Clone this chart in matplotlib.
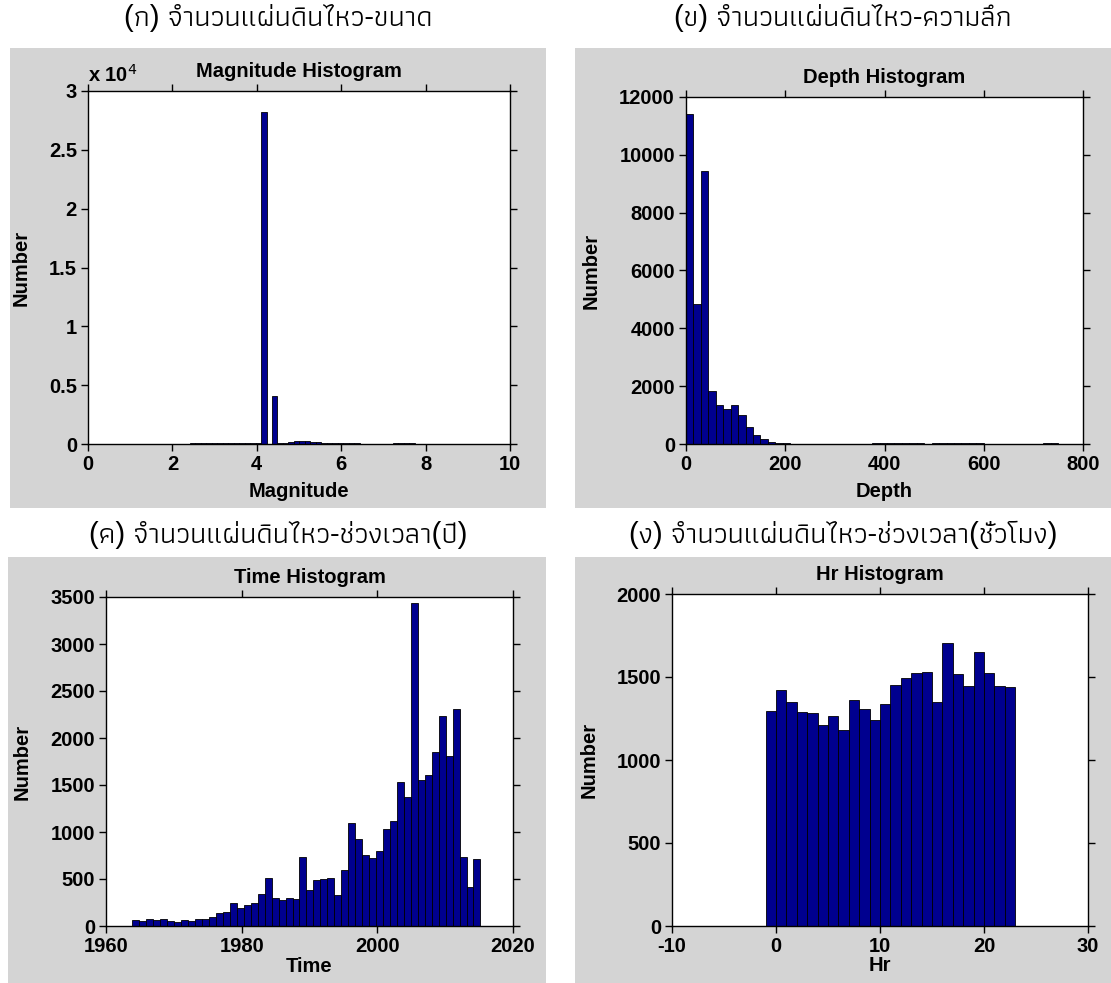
import numpy as np
import matplotlib
matplotlib.use("Agg")
import matplotlib.pyplot as plt
from matplotlib import font_manager
from matplotlib.ft2font import FT2Font
from matplotlib.patches import Rectangle

# ---- data ----
# magnitude: 50 bins from 1.5 to 8.0
mag_start = 1.5
mag_width = 0.13
mag_counts = [0, 20, 5, 0, 5, 10, 40, 50, 60, 60, 70, 70, 80, 80, 90, 90, 100, 100,
              110, 120, 28200, 30, 4100, 60, 60, 150, 250, 280, 250, 200, 150, 100,
              80, 70, 60, 60, 50, 50, 40, 40, 30, 30, 20, 40, 80, 90, 80, 60, 20, 5]

# depth: 50 bins of 15 km
depth_start = 0
depth_width = 15
depth_counts = [11400, 4850, 9450, 1850, 1350, 1200, 1350, 1000, 600, 320, 170, 60, 30,
                20, 15, 10, 10, 8, 8, 6, 5, 5, 4, 4, 6, 20, 25, 30, 20, 30, 25, 20, 15,
                25, 30, 25, 20, 25, 30, 20, 15, 5, 3, 2, 2, 2, 5, 10, 30, 40]

# time: 50 bins, decimal years
time_start = 1963.9
time_width = 1.026
time_counts = [60, 55, 70, 65, 70, 50, 40, 60, 50, 70, 70, 95, 140, 145, 240, 195, 220,
               250, 345, 515, 295, 280, 300, 290, 735, 381, 494, 501, 512, 328, 593,
               1101, 928, 759, 723, 801, 1034, 1122, 1535, 1376, 3440, 1553, 1605,
               1852, 2234, 1810, 2304, 730, 416, 713]

# hour of day: 24 bins
hr_start = -1
hr_width = 1
hr_counts = [1295, 1424, 1350, 1288, 1285, 1212, 1265, 1180, 1362, 1305, 1240, 1335,
             1450, 1496, 1527, 1530, 1347, 1707, 1518, 1443, 1652, 1524, 1443, 1437]

captions = ["(ก) จำนวนแผ่นดินไหว-ขนาด", "(ข) จำนวนแผ่นดินไหว-ความลึก",
            "(ค) จำนวนแผ่นดินไหว-ช่วงเวลา(ปี)", "(ง) จำนวนแผ่นดินไหว-ช่วงเวลา(ชั่วโมง)"]


def find_thai_font():
    found = []
    for f in font_manager.findSystemFonts():
        try:
            if 0x0E08 in FT2Font(f).get_charmap():
                found.append(f)
        except Exception:
            pass
    if not found:
        return None
    # prefer a regular (thin) face
    def rank(p):
        n = p.lower()
        if "bold" in n or "black" in n or "semi" in n or "medium" in n:
            return 2
        if "regular" in n:
            return 0
        return 1
    return sorted(found, key=lambda p: (rank(p), p))[0]


thai_path = find_thai_font()
if thai_path:
    font_manager.fontManager.addfont(thai_path)
    thai_name = font_manager.FontProperties(fname=thai_path).get_name()
    cap_family = ["Liberation Sans", thai_name]
else:
    cap_family = ["DejaVu Sans"]

plt.rcParams["font.family"] = ["Liberation Sans", "DejaVu Sans"]
plt.rcParams["axes.unicode_minus"] = False

W, H = 1111, 983
fig = plt.figure(figsize=(W / 100, H / 100), dpi=100)
fig.patch.set_facecolor("white")


def box(x0, y0, x1, y1):
    return [x0 / W, 1 - y1 / H, (x1 - x0) / W, (y1 - y0) / H]


gray = [(10, 48, 546, 508), (575, 48, 1111, 508), (8, 557, 546, 983), (575, 557, 1111, 983)]
for g in gray:
    b = box(*g)
    fig.patches.append(Rectangle((b[0], b[1]), b[2], b[3], transform=fig.transFigure,
                                 facecolor="#d4d4d4", edgecolor="none", zorder=-10))

cap_pos = [(278, 18), (843, 18), (278, 535), (843, 535)]
for (cx, cy), txt in zip(cap_pos, captions):
    fig.text(cx / W, 1 - cy / H, txt, ha="center", va="center", family=cap_family,
             fontsize=21, fontweight="normal")

bar_color = "#00008f"
fs = 14.5


def hist_axes(pos, counts, start, width, xlim, xticks, ylim, yticks, title, xlabel,
              xpad=6):
    ax = fig.add_axes(box(*pos))
    lefts = start + width * np.arange(len(counts))
    ax.bar(lefts, counts, width=width, align="edge", color=bar_color,
           edgecolor="black", linewidth=0.6)
    ax.set_xlim(xlim)
    ax.set_ylim(ylim)
    ax.set_xticks(xticks)
    ax.set_yticks(yticks)
    ax.tick_params(direction="out", length=5, width=1, top=True, right=True,
                   labelsize=fs, pad=3)
    for lab in ax.get_xticklabels() + ax.get_yticklabels():
        lab.set_fontweight("bold")
    for s in ax.spines.values():
        s.set_linewidth(1)
    ax.set_title(title, fontsize=fs, fontweight="bold", pad=10)
    ax.set_xlabel(xlabel, fontsize=fs, fontweight="bold", labelpad=xpad)
    ax.set_ylabel("Number", fontsize=fs, fontweight="bold", labelpad=13)
    return ax


ax1 = hist_axes((88, 91, 510, 444), mag_counts, mag_start, mag_width, (0, 10),
                range(0, 11, 2), (0, 30000), range(0, 30001, 5000),
                "Magnitude Histogram", "Magnitude")
ax1.set_yticklabels(["0", "0.5", "1", "1.5", "2", "2.5", "3"])
for lab in ax1.get_yticklabels():
    lab.set_fontweight("bold")
ax1.text(0.0, 1.015, r"x 10$^4$", transform=ax1.transAxes, fontsize=fs,
         fontweight="bold", ha="left", va="bottom")

hist_axes((686, 97, 1083, 444), depth_counts, depth_start, depth_width, (0, 800),
          range(0, 801, 200), (0, 12000), range(0, 12001, 2000),
          "Depth Histogram", "Depth")

hist_axes((106, 597, 513, 926), time_counts, time_start, time_width, (1960, 2020),
          range(1960, 2021, 20), (0, 3500), range(0, 3501, 500),
          "Time Histogram", "Time", xpad=1)

hist_axes((672, 594, 1088, 926), hr_counts, hr_start, hr_width, (-10, 30),
          range(-10, 31, 10), (0, 2000), range(0, 2001, 500),
          "Hr Histogram", "Hr", xpad=0)

fig.savefig("out.png", dpi=100)
